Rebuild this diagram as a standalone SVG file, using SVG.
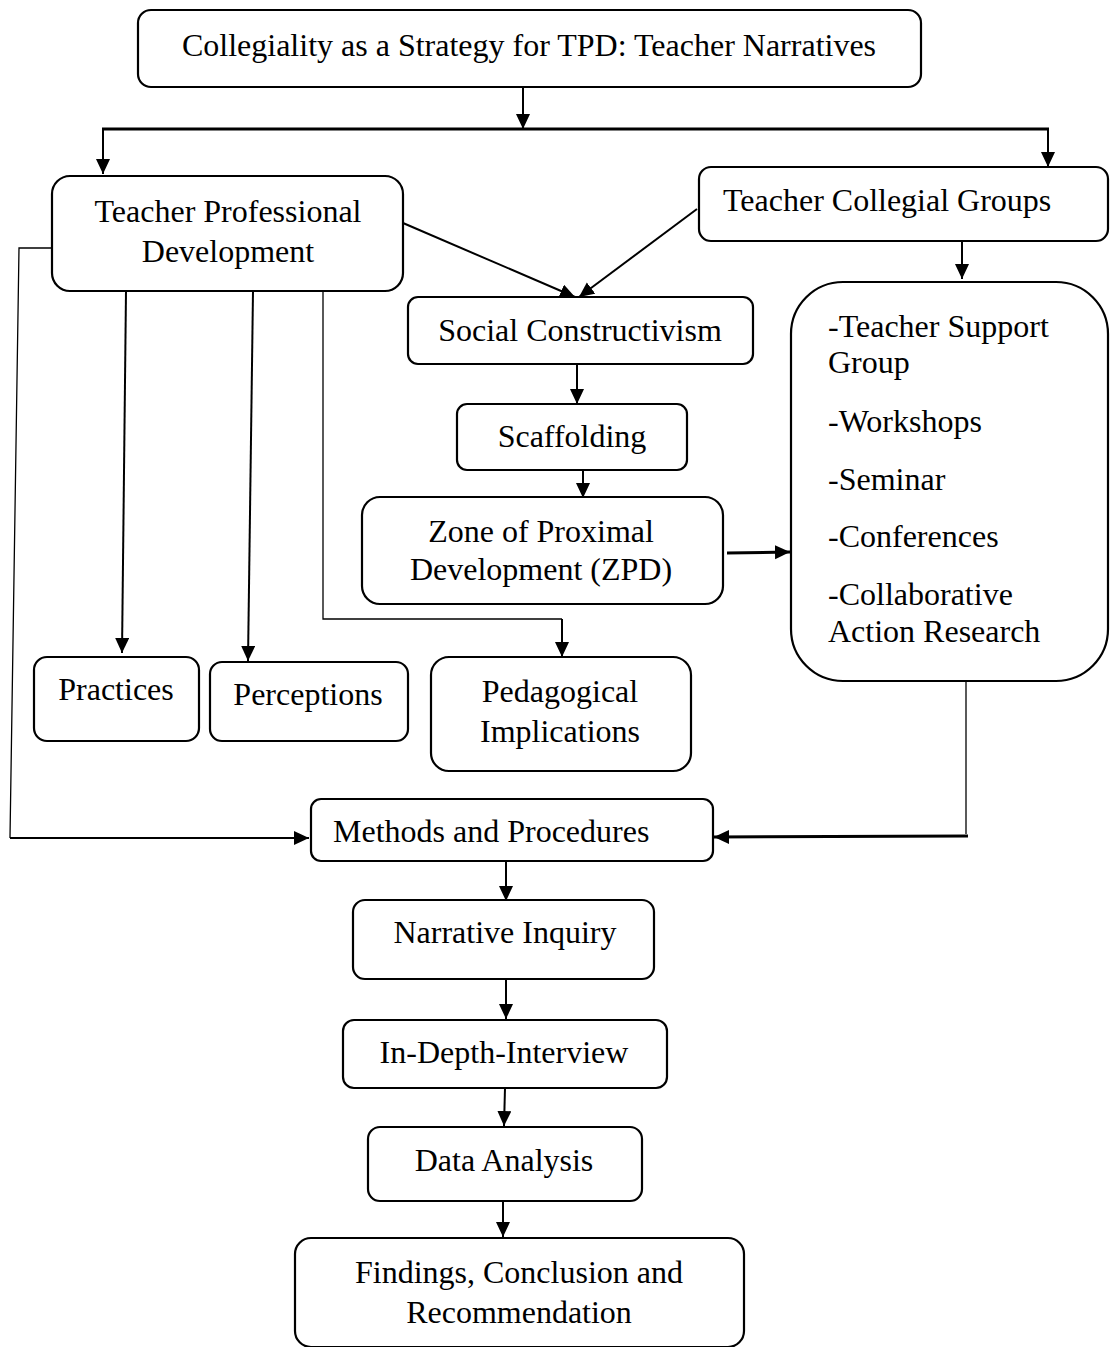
<svg xmlns="http://www.w3.org/2000/svg" width="1111" height="1347" viewBox="0 0 1111 1347">
<style>
.box{fill:#fff;stroke:#000;stroke-width:2.2}
.t{font-family:"Liberation Serif","Times New Roman",serif;font-size:32px;fill:#000}
.m{text-anchor:middle}
.c{fill:none;stroke:#000;stroke-width:2}
.thin{fill:none;stroke:#000;stroke-width:1.3}
</style>
<defs>
<marker id="ah" markerUnits="userSpaceOnUse" markerWidth="16" markerHeight="15" refX="15" refY="7" orient="auto">
<path d="M0,0 L15,7 L0,14 z" fill="#000"/>
</marker>
</defs>
<rect width="1111" height="1347" fill="#fff"/>
<g id="connectors">
<line class="c" x1="523" y1="88" x2="523" y2="129" marker-end="url(#ah)"/>
<line class="c" x1="102" y1="129" x2="1049" y2="129" style="stroke-width:3"/>
<line class="c" x1="103" y1="129" x2="103" y2="174" marker-end="url(#ah)"/>
<line class="c" x1="1048" y1="129" x2="1048" y2="167" marker-end="url(#ah)"/>
<line class="c" x1="403" y1="223" x2="575" y2="297" marker-end="url(#ah)"/>
<line class="c" x1="697" y1="209" x2="579" y2="297" marker-end="url(#ah)"/>
<line class="c" x1="962" y1="241" x2="962" y2="279" marker-end="url(#ah)"/>
<line class="c" x1="577" y1="364" x2="577" y2="404" marker-end="url(#ah)"/>
<line class="c" x1="583" y1="470" x2="583" y2="498" marker-end="url(#ah)"/>
<line class="c" x1="727" y1="553" x2="790" y2="552" style="stroke-width:3" marker-end="url(#ah)"/>
<line class="c" x1="126" y1="291" x2="122" y2="653" marker-end="url(#ah)"/>
<line class="c" x1="253" y1="291" x2="248" y2="661" marker-end="url(#ah)"/>
<polyline class="thin" points="323,285 323,619 562,619"/>
<line class="c" x1="562" y1="619" x2="562" y2="657" marker-end="url(#ah)"/>
<polyline class="thin" points="52,248 19,248 10,838"/>
<line class="c" x1="10" y1="838" x2="309" y2="838" marker-end="url(#ah)"/>
<line class="thin" x1="966" y1="674" x2="966" y2="834"/>
<line class="c" x1="968" y1="836" x2="714" y2="837" style="stroke-width:3" marker-end="url(#ah)"/>
<line class="c" x1="506" y1="861" x2="506" y2="901" marker-end="url(#ah)"/>
<line class="c" x1="506" y1="979" x2="506" y2="1019" marker-end="url(#ah)"/>
<line class="c" x1="505" y1="1088" x2="504" y2="1126" marker-end="url(#ah)"/>
<line class="c" x1="503" y1="1201" x2="503" y2="1237" marker-end="url(#ah)"/>
</g>
<g id="title"><rect class="box" x="138" y="10" width="783" height="77" rx="13"/><text class="t m" x="529" y="56">Collegiality as a Strategy for TPD: Teacher Narratives</text></g>
<g id="tpd"><rect class="box" x="52" y="176" width="351" height="115" rx="18"/><text class="t m" x="228" y="222">Teacher Professional</text><text class="t m" x="228" y="262">Development</text></g>
<g id="tcg"><rect class="box" x="699" y="167" width="409" height="74" rx="12"/><text class="t" x="723" y="211">Teacher Collegial Groups</text></g>
<g id="social"><rect class="box" x="408" y="297" width="345" height="67" rx="10"/><text class="t m" x="580" y="341">Social Constructivism</text></g>
<g id="scaffolding"><rect class="box" x="457" y="404" width="230" height="66" rx="10"/><text class="t m" x="572" y="447">Scaffolding</text></g>
<g id="zpd"><rect class="box" x="362" y="497" width="361" height="107" rx="18"/><text class="t m" x="541" y="542">Zone of Proximal</text><text class="t m" x="541" y="580">Development (ZPD)</text></g>
<g id="groups"><rect class="box" x="791" y="282" width="317" height="399" rx="52"/>
<text class="t" x="828" y="337">-Teacher Support</text><text class="t" x="828" y="373">Group</text><text class="t" x="828" y="432">-Workshops</text><text class="t" x="828" y="490">-Seminar</text><text class="t" x="828" y="547">-Conferences</text><text class="t" x="828" y="605">-Collaborative</text><text class="t" x="828" y="642">Action Research</text></g>
<g id="practices"><rect class="box" x="34" y="657" width="165" height="84" rx="13"/><text class="t m" x="116" y="700">Practices</text></g>
<g id="perceptions"><rect class="box" x="210" y="662" width="198" height="79" rx="12"/><text class="t m" x="308" y="705">Perceptions</text></g>
<g id="pedagogical"><rect class="box" x="431" y="657" width="260" height="114" rx="18"/><text class="t m" x="560" y="702">Pedagogical</text><text class="t m" x="560" y="742">Implications</text></g>
<g id="methods"><rect class="box" x="311" y="799" width="402" height="62" rx="10"/><text class="t" x="333" y="842">Methods and Procedures</text></g>
<g id="narrative"><rect class="box" x="353" y="900" width="301" height="79" rx="12"/><text class="t m" x="505" y="943">Narrative Inquiry</text></g>
<g id="interview"><rect class="box" x="343" y="1020" width="324" height="68" rx="11"/><text class="t m" x="504" y="1063">In-Depth-Interview</text></g>
<g id="data"><rect class="box" x="368" y="1127" width="274" height="74" rx="12"/><text class="t m" x="504" y="1171">Data Analysis</text></g>
<g id="findings"><rect class="box" x="295" y="1238" width="449" height="109" rx="16"/><text class="t m" x="519" y="1283">Findings, Conclusion and</text><text class="t m" x="519" y="1323">Recommendation</text></g>
</svg>
